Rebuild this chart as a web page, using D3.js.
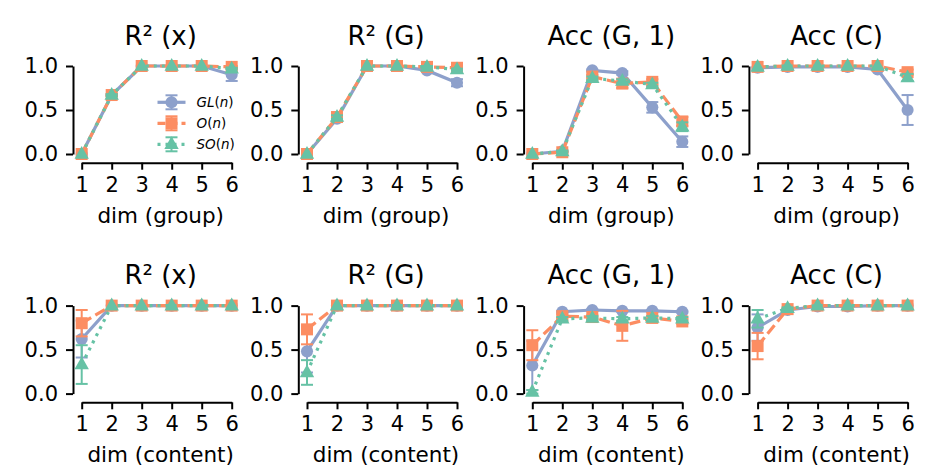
<!DOCTYPE html>
<html>
<head>
<meta charset="utf-8">
<script src="https://cdn.jsdelivr.net/npm/d3@7"></script>
<style>
  html, body { margin: 0; padding: 0; background: #fff; }
  svg { display: block; font-family: "DejaVu Sans", sans-serif; }
</style>
</head>
<body>
<div id="chart"></div>
<script>
// values, panel order: top row left->right, bottom row left->right
const dims = [1, 2, 3, 4, 5, 6];
const yTicks = [0, 0.5, 1.0];
const panelTitles = ["R² (x)", "R² (G)", "Acc (G, 1)", "Acc (C)", "R² (x)", "R² (G)", "Acc (G, 1)", "Acc (C)"];
const rowLabels = ["dim (group)", "dim (content)"];

const glMean = [
  [0.00, 0.67, 1.00, 1.00, 1.00, 0.90],
  [0.00, 0.40, 1.00, 1.00, 0.95, 0.81],
  [0.00, 0.03, 0.95, 0.92, 0.53, 0.14],
  [0.98, 0.99, 0.99, 0.99, 0.96, 0.50],
  [0.62, 1.00, 1.00, 1.00, 1.00, 1.00],
  [0.48, 1.00, 1.00, 1.00, 1.00, 1.00],
  [0.32, 0.93, 0.95, 0.94, 0.94, 0.93],
  [0.75, 0.95, 0.99, 0.99, 1.00, 1.00]
];
const glErr = [
  [0, 0.01, 0, 0, 0, 0.07],
  [0, 0.02, 0, 0, 0.01, 0.04],
  [0, 0.01, 0.01, 0.02, 0.06, 0.06],
  [0.01, 0, 0, 0, 0.01, 0.17],
  [0.21, 0, 0, 0, 0, 0],
  [0.24, 0, 0, 0, 0, 0],
  [0.28, 0.01, 0.01, 0.01, 0.01, 0.01],
  [0.15, 0.01, 0, 0, 0, 0]
];
const oMean = [
  [0.00, 0.67, 1.00, 1.00, 1.00, 0.99],
  [0.00, 0.42, 1.00, 1.00, 0.99, 0.98],
  [0.00, 0.02, 0.88, 0.80, 0.82, 0.37],
  [0.99, 1.00, 1.00, 1.00, 1.00, 0.93],
  [0.80, 1.00, 1.00, 1.00, 1.00, 1.00],
  [0.73, 1.00, 1.00, 1.00, 1.00, 1.00],
  [0.55, 0.88, 0.87, 0.77, 0.86, 0.82],
  [0.54, 0.96, 1.00, 1.00, 1.00, 1.00]
];
const oErr = [
  [0, 0.01, 0, 0, 0, 0.01],
  [0, 0.02, 0, 0, 0.01, 0.01],
  [0, 0.01, 0.02, 0.05, 0.03, 0.05],
  [0, 0, 0, 0, 0, 0.03],
  [0.15, 0, 0, 0, 0, 0],
  [0.17, 0, 0, 0, 0, 0],
  [0.17, 0.02, 0.02, 0.17, 0.02, 0.03],
  [0.15, 0.01, 0, 0, 0, 0]
];
const soMean = [
  [0.00, 0.67, 1.00, 1.00, 1.00, 0.97],
  [0.00, 0.42, 1.00, 1.00, 0.99, 0.96],
  [0.00, 0.03, 0.86, 0.83, 0.79, 0.31],
  [0.99, 1.00, 1.00, 1.00, 1.00, 0.87],
  [0.33, 1.00, 1.00, 1.00, 1.00, 1.00],
  [0.24, 1.00, 1.00, 1.00, 1.00, 1.00],
  [0.02, 0.85, 0.86, 0.85, 0.86, 0.85],
  [0.85, 0.97, 1.00, 1.00, 1.00, 1.00]
];
const soErr = [
  [0, 0.01, 0, 0, 0, 0.01],
  [0, 0.02, 0, 0, 0.01, 0.01],
  [0, 0.01, 0.02, 0.02, 0.02, 0.05],
  [0, 0, 0, 0, 0, 0.04],
  [0.22, 0, 0, 0, 0, 0],
  [0.14, 0, 0, 0, 0, 0],
  [0.02, 0.02, 0.02, 0.02, 0.02, 0.02],
  [0.10, 0.01, 0, 0, 0, 0]
];

const SERIES = [
  { name: "GL", mean: glMean, err: glErr, color: "#8da0cb", dash: null, legendDash: null, marker: "circle" },
  { name: "O", mean: oMean, err: oErr, color: "#fc8d62", dash: "11,4.8", legendDash: "8,4", marker: "square" },
  { name: "SO", mean: soMean, err: soErr, color: "#66c2a5", dash: "3,5", legendDash: "3,5", marker: "triangle" }
];

const WIDTH = 947;
const HEIGHT = 473;
const COL_X = 81.7;
const COL_STEP = 225.3;
const PLOT_W = 150;
const ROW_TOP = [66, 305.6];
const PLOT_H = 88;
const SPINE_GAP = 8.7;
const LINE_W = 3.2;

const svg = d3.select("#chart").append("svg")
  .attr("width", WIDTH)
  .attr("height", HEIGHT);

function markerPath(type) {
  if (type === "circle") return d3.symbol(d3.symbolCircle, 115)();
  if (type === "square") return "M-6,-6H6V6H-6Z";
  return "M0,-8L7.2,4.8H-7.2Z";
}

function drawPanel(p) {
  const row = Math.floor(p / 4);
  const col = p % 4;
  const left = COL_X + col * COL_STEP;
  const top = ROW_TOP[row];

  const x = d3.scaleLinear().domain([1, 6]).range([left, left + PLOT_W]);
  const y = d3.scaleLinear().domain([0, 1]).range([top + PLOT_H, top]);

  const g = svg.append("g");

  // x axis (trimmed spine, offset down)
  const xAxis = g.append("g")
    .attr("transform", `translate(0,${top + PLOT_H + SPINE_GAP})`)
    .call(d3.axisBottom(x).tickValues(dims).tickSize(7).tickSizeOuter(0).tickPadding(7).tickFormat(d3.format("d")));
  xAxis.selectAll("text").attr("font-size", 21).attr("fill", "#000")
    .attr("font-family", "DejaVu Sans");

  // y axis (trimmed spine, offset left)
  const yAxis = g.append("g")
    .attr("transform", `translate(${left - SPINE_GAP},0)`)
    .call(d3.axisLeft(y).tickValues(yTicks).tickSize(7).tickSizeOuter(0).tickPadding(8).tickFormat(d3.format(".1f")));
  yAxis.selectAll("text").attr("font-size", 21).attr("fill", "#000")
    .attr("font-family", "DejaVu Sans");

  [xAxis, yAxis].forEach(a => {
    a.select(".domain").attr("stroke", "#000").attr("stroke-width", 2);
    a.selectAll(".tick line").attr("stroke", "#000").attr("stroke-width", 2);
  });

  g.append("text")
    .attr("x", left + 79)
    .attr("y", top - 21.5)
    .attr("text-anchor", "middle")
    .attr("font-size", 26)
    .text(panelTitles[p]);

  g.append("text")
    .attr("x", left + 79)
    .attr("y", top + PLOT_H + SPINE_GAP + 60)
    .attr("text-anchor", "middle")
    .attr("font-size", 21.5)
    .text(rowLabels[row]);

  SERIES.forEach(s => {
    const pts = dims.map((d, i) => ({ x: d, m: s.mean[p][i], e: s.err[p][i] }));
    const sg = g.append("g");

    const bars = pts.filter(d => d.e > 0);
    sg.selectAll(".eb").data(bars).enter().append("line")
      .attr("x1", d => x(d.x)).attr("x2", d => x(d.x))
      .attr("y1", d => y(d.m - d.e)).attr("y2", d => y(d.m + d.e))
      .attr("stroke", s.color).attr("stroke-width", 2);
    [-1, 1].forEach(sign => {
      sg.selectAll(".cap" + sign).data(bars).enter().append("line")
        .attr("x1", d => x(d.x) - 6).attr("x2", d => x(d.x) + 6)
        .attr("y1", d => y(d.m + sign * d.e)).attr("y2", d => y(d.m + sign * d.e))
        .attr("stroke", s.color).attr("stroke-width", 2);
    });

    sg.append("path")
      .datum(pts)
      .attr("fill", "none")
      .attr("stroke", s.color)
      .attr("stroke-width", LINE_W)
      .attr("stroke-dasharray", s.dash)
      .attr("d", d3.line().x(d => x(d.x)).y(d => y(d.m)));

    sg.selectAll(".mk").data(pts).enter().append("path")
      .attr("transform", d => `translate(${x(d.x)},${y(d.m)})`)
      .attr("d", markerPath(s.marker))
      .attr("fill", s.color);
  });
}

d3.range(8).forEach(drawPanel);

// legend inside first panel
const legend = svg.append("g");
const legendY = [102.3, 123.3, 144.3];
SERIES.forEach((s, i) => {
  const lg = legend.append("g").attr("transform", `translate(171.5,${legendY[i]})`);
  lg.append("line").attr("x1", -14).attr("x2", 14)
    .attr("stroke", s.color).attr("stroke-width", LINE_W)
    .attr("stroke-dasharray", s.legendDash);
  lg.append("line").attr("x1", 0).attr("x2", 0).attr("y1", -7).attr("y2", 7)
    .attr("stroke", s.color).attr("stroke-width", 2);
  [-7, 7].forEach(v => {
    lg.append("line").attr("x1", -6).attr("x2", 6).attr("y1", v).attr("y2", v)
      .attr("stroke", s.color).attr("stroke-width", 2);
  });
  lg.append("path").attr("d", markerPath(s.marker)).attr("fill", s.color);

  const t = lg.append("text").attr("x", 25).attr("y", 4.8).attr("font-size", 13.5);
  t.append("tspan").attr("font-style", "italic").text(s.name);
  t.append("tspan").text("(");
  t.append("tspan").attr("font-style", "italic").text("n");
  t.append("tspan").text(")");
});
</script>
</body>
</html>
